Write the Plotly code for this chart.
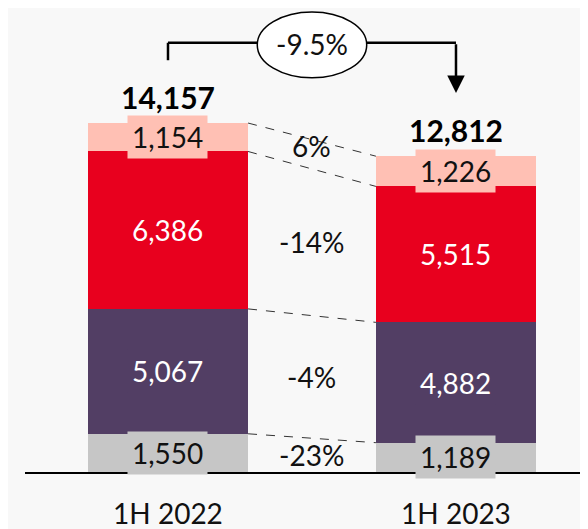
import plotly.graph_objects as go

categories = ["1H 2022", "1H 2023"]
series_names = ["Other", "Segment B", "Segment A", "Top"]
gray_vals = [1550, 1189]
purple_vals = [5067, 4882]
red_vals = [6386, 5515]
pink_vals = [1154, 1226]
totals = [14157, 12812]
change_labels = ["-23%", "-4%", "-14%", "6%"]
total_change = "-9.5%"

series = [gray_vals, purple_vals, red_vals, pink_vals]
colors = ["#C6C6C6", "#523E64", "#E8001E", "#FFC0B4"]
text_colors = ["#111111", "#FFFFFF", "#FFFFFF", "#111111"]
label_yshift = [0, 0, 0, 8]

FONT = "Lato"
BW = 0.556
xs = [0, 1]

fig = go.Figure()
for name, vals, col in zip(series_names, series, colors):
    fig.add_trace(go.Bar(x=xs, y=vals, name=name, marker_color=col,
                         marker_line_width=0, width=BW, hoverinfo="skip"))

annotations = []
shapes = []
cum = [0, 0]
mids = []
tops = []
for vals, tc, col in zip(series, text_colors, colors):
    m = []
    t = []
    for i in range(2):
        mid = cum[i] + vals[i] / 2
        m.append(mid)
        annotations.append(dict(x=xs[i], y=mid, text=f"{vals[i]:,}", showarrow=False,
                                font=dict(family=FONT, size=28, color=tc),
                                bgcolor=col, borderpad=4, xanchor="center", yanchor="middle"))
        cum[i] += vals[i]
        t.append(cum[i])
    mids.append(m)
    tops.append(t)

# connector lines
for t in tops:
    shapes.append(dict(type="line", xref="x", yref="y", x0=xs[0] + BW / 2, x1=xs[1] - BW / 2,
                       y0=t[0], y1=t[1], line=dict(color="#333333", width=1, dash="dash")))

# change labels
for lab, m, ys in zip(change_labels, mids, label_yshift):
    annotations.append(dict(x=0.5, y=(m[0] + m[1]) / 2, text=lab, showarrow=False, yshift=ys,
                            font=dict(family=FONT, size=28, color="#111111"),
                            xanchor="center", yanchor="middle"))

# totals
for i in range(2):
    annotations.append(dict(x=xs[i], y=totals[i], text=f"<b>{totals[i]:,}</b>", showarrow=False,
                            font=dict(family=FONT, size=30, color="#000000"),
                            xanchor="center", yanchor="bottom", yshift=6))

# bracket
ytop = max(totals) * 1.23
yleft = totals[0] * 1.18
ytip = totals[1] * 1.20
shapes.append(dict(type="line", xref="x", yref="y", x0=xs[0], x1=xs[0], y0=yleft, y1=ytop,
                   line=dict(color="#000000", width=2.5)))
shapes.append(dict(type="line", xref="x", yref="y", x0=xs[0], x1=xs[1], y0=ytop, y1=ytop,
                   line=dict(color="#000000", width=2.5)))
annotations.append(dict(x=xs[1], y=ytip, ax=xs[1], ay=ytop, xref="x", yref="y", axref="x", ayref="y",
                        showarrow=True, arrowhead=2, arrowsize=1.4, arrowwidth=2.5,
                        arrowcolor="#000000", text=""))
shapes.append(dict(type="circle", xref="x", yref="y", x0=0.31, x1=0.69,
                   y0=ytop - 1420, y1=ytop + 1250,
                   fillcolor="#FFFFFF", line=dict(color="#000000", width=1.5)))
annotations.append(dict(x=0.5, y=ytop - 60, text=total_change, showarrow=False,
                        font=dict(family=FONT, size=28, color="#111111"),
                        xanchor="center", yanchor="middle"))

# the page body adds an 8px margin at left/top; size the figure to end at the window edge
fig.update_layout(
    width=572, height=521,
    margin=dict(l=17, r=0, t=0, b=57),
    paper_bgcolor="#F8F8F8", plot_bgcolor="#F8F8F8",
    barmode="stack", showlegend=False,
    shapes=shapes, annotations=annotations,
    font=dict(family=FONT),
)
fig.update_xaxes(range=[-0.4965, 1.4306], tickvals=xs, ticktext=categories,
                 showline=True, linecolor="#000000", linewidth=2, showgrid=False,
                 zeroline=False, ticks="", ticklabelstandoff=16,
                 tickfont=dict(family=FONT, size=28, color="#111111"))
fig.update_yaxes(range=[0, 18824], visible=False, showgrid=False, zeroline=False)

fig.write_html("out.html")
